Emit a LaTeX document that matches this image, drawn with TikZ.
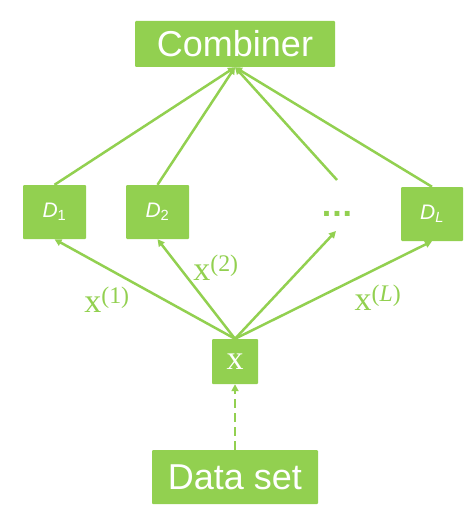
\documentclass[tikz,border=0pt]{standalone}
\usepackage{fontspec}
\setmainfont{Liberation Sans}
\newfontfamily\seriffont{Liberation Serif}
\usetikzlibrary{arrows.meta, positioning}
\definecolor{leafgreen}{HTML}{92D050}

\begin{document}
\begin{tikzpicture}[x=1pt,y=-1pt,
            box/.style={fill=leafgreen, text=white, inner sep=0pt, rounded corners=1pt},
            bigbox/.style={box, font=\fontsize{36}{36}\selectfont},
            dbox/.style={box, minimum width=63pt, minimum height=54pt, font=\fontsize{21}{21}\selectfont},
            link/.style={draw=leafgreen, line width=2.5pt, -{Triangle[length=7pt,width=7pt]}},
            xlabel/.style={text=leafgreen, inner sep=0pt, font=\seriffont\fontsize{34}{34}\selectfont}]
            \useasboundingbox (0,0) rectangle (474,516);
            % boxes
            \node [bigbox, minimum width=200pt, minimum height=46pt] (comb) at (235,44) {Combiner};
            \node [dbox] (d1) at (54.5,212) {\textit{D}\textsubscript{1}};
            \node [dbox] (d2) at (157.5,212) {\textit{D}\textsubscript{2}};
            \node [dbox, minimum width=62pt] (dl) at (432,214) {\textit{D}\textsubscript{\textit{L}}};
            \node [text=leafgreen, inner sep=0pt, font=\bfseries\fontsize{34}{34}\selectfont] (dots) at (337,214) {.\kern1pt.\kern1pt.};
            \coordinate (dtop) at (337,180);
            \coordinate (dbot) at (336,231);
            \node [box, minimum width=46pt, minimum height=45pt, font=\seriffont\fontsize{34}{34}\selectfont] (x) at (235,361.5) {x};
            \node [bigbox, minimum width=166pt, minimum height=54pt] (data) at (235,477) {Data set};
            % up to the combiner
            \draw [link] (d1.north) -- (comb.south);
            \draw [link] (d2.north) -- (comb.south);
            \draw [link] (dtop) -- (comb.south);
            \draw [link] (dl.north) -- (comb.south);
            % from x to the classifiers
            \draw [link] (x.north) -- (d1.south);
            \draw [link] (x.north) -- (d2.south);
            \draw [link] (x.north) -- (dbot);
            \draw [link] (x.north) -- (dl.south);
            \draw [link, dash pattern=on 9pt off 5pt] (data.north) -- (x.south);
            % labels
            \node [xlabel] (x1) at (107,300) {x\textsuperscript{(1)}};
            \node [xlabel] (x2) at (216,268) {x\textsuperscript{(2)}};
            \node [xlabel] (xl) at (378,298) {x\textsuperscript{(\textit{L})}};
\end{tikzpicture}
\end{document}
